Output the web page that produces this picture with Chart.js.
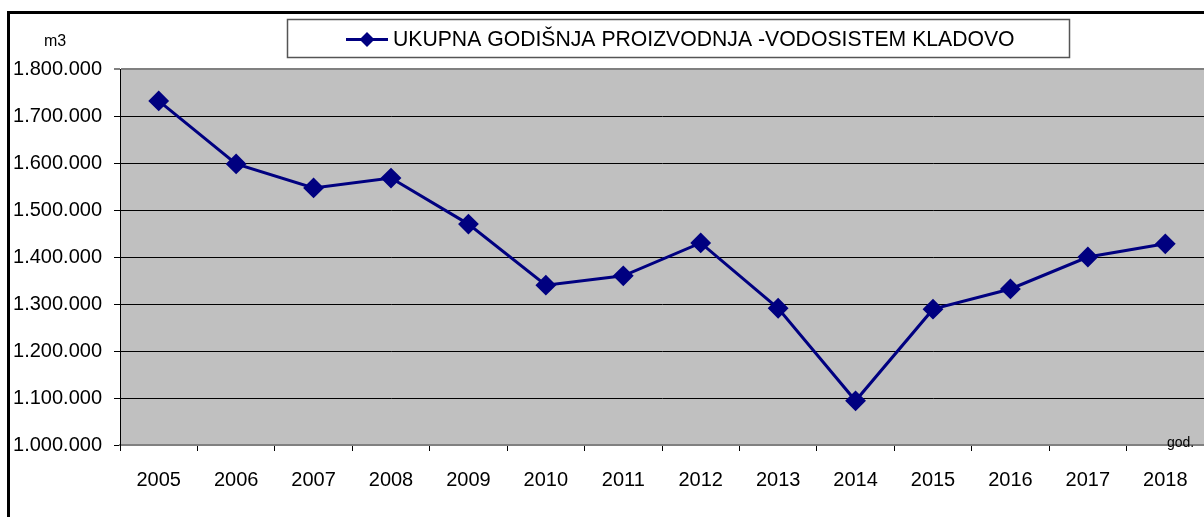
<!DOCTYPE html>
<html>
<head>
<meta charset="utf-8">
<script src="https://cdn.jsdelivr.net/npm/chart.js@4/dist/chart.umd.min.js"></script>
<style>
    html, body { margin: 0; padding: 0; background: #ffffff; overflow: hidden; }
    #wrap { width: 1204px; height: 517px; position: relative; }
    #prodChart { display: block; }
</style>
</head>
<body>
<div id="wrap"><canvas id="prodChart"></canvas></div>
<script>
// Godisnja proizvodnja vode (m3) po godinama
const years = ['2005', '2006', '2007', '2008', '2009', '2010', '2011',
               '2012', '2013', '2014', '2015', '2016', '2017', '2018'];
const production = [1732000, 1598000, 1547000, 1568000, 1470000, 1340000, 1360000,
                    1430000, 1291000, 1094000, 1289000, 1332000, 1400000, 1428000];
const seriesLabel = 'UKUPNA GODIŠNJA PROIZVODNJA -VODOSISTEM KLADOVO';
const yMin = 1000000;
const yMax = 1800000;
const yStep = 100000;

const FONT = '"Liberation Sans", Arial, sans-serif';
const NAVY = '#000080';

// thousands separator with dots (1.800.000)
function formatDots(v) {
    return String(v).replace(/\B(?=(\d{3})+(?!\d))/g, '.');
}

// grey plot background, outer frame, legend box and axis captions
const decorPlugin = {
    id: 'decor',
    beforeDraw(chart) {
        const { ctx, chartArea } = chart;
        ctx.save();
        ctx.fillStyle = '#c0c0c0';
        ctx.fillRect(chartArea.left, chartArea.top,
                     chartArea.right - chartArea.left, chartArea.bottom - chartArea.top);
        ctx.restore();
    },
    afterDraw(chart) {
        const { ctx } = chart;
        ctx.save();

        // outer frame (continues past the picture edge)
        ctx.strokeStyle = '#000000';
        ctx.lineWidth = 3;
        ctx.strokeRect(8.5, 12.5, 1300, 600);

        // legend box
        ctx.strokeStyle = '#555555';
        ctx.lineWidth = 1.5;
        ctx.strokeRect(287.5, 19.5, 782, 38);

        ctx.strokeStyle = NAVY;
        ctx.lineWidth = 3;
        ctx.beginPath();
        ctx.moveTo(346, 39.5);
        ctx.lineTo(388, 39.5);
        ctx.stroke();
        ctx.fillStyle = NAVY;
        ctx.beginPath();
        ctx.moveTo(367, 32);
        ctx.lineTo(374.5, 39.5);
        ctx.lineTo(367, 47);
        ctx.lineTo(359.5, 39.5);
        ctx.closePath();
        ctx.fill();

        ctx.fillStyle = '#000000';
        ctx.font = '21.2px ' + FONT;
        ctx.textAlign = 'left';
        ctx.textBaseline = 'middle';
        ctx.fillText(seriesLabel, 393, 40);

        // axis captions
        ctx.font = '16px ' + FONT;
        ctx.textAlign = 'center';
        ctx.fillText('m3', 55, 42);

        ctx.font = '14px ' + FONT;
        ctx.textAlign = 'left';
        ctx.fillText('god.', 1167, 443);

        ctx.restore();
    }
};

const ctx = document.getElementById('prodChart');

new Chart(ctx, {
    type: 'line',
    data: {
        labels: years,
        datasets: [{
            label: seriesLabel,
            data: production,
            borderColor: NAVY,
            backgroundColor: NAVY,
            borderWidth: 3,
            tension: 0,
            pointStyle: 'rectRot',
            pointRadius: 9,
            pointBorderWidth: 2,
            pointBackgroundColor: NAVY,
            pointBorderColor: NAVY,
            pointHoverRadius: 9
        }]
    },
    options: {
        responsive: true,
        maintainAspectRatio: false,
        animation: false,
        layout: {
            autoPadding: false,
            padding: { top: 69, right: 0, bottom: 0, left: 0 }
        },
        plugins: {
            legend: { display: false },
            tooltip: { enabled: false }
        },
        scales: {
            x: {
                offset: true,
                afterFit: (scale) => {
                    scale.height = 72;
                    scale.paddingRight = 0;
                },
                grid: {
                    offset: true,
                    drawOnChartArea: false,
                    drawTicks: true,
                    tickLength: 6,
                    color: '#000000'
                },
                border: { color: '#808080', width: 2 },
                ticks: {
                    color: '#000000',
                    padding: 17,
                    maxRotation: 0,
                    autoSkip: false,
                    font: { family: FONT, size: 20 }
                }
            },
            y: {
                min: yMin,
                max: yMax,
                afterFit: (scale) => { scale.width = 120; },
                grid: {
                    color: (c) => (c.tick && c.tick.value === yMax ? '#808080' : '#000000'),
                    lineWidth: (c) => (c.tick && c.tick.value === yMax ? 2 : 1),
                    tickLength: 6
                },
                border: { color: '#000000', width: 1 },
                ticks: {
                    stepSize: yStep,
                    color: '#000000',
                    padding: 12,
                    font: { family: FONT, size: 20 },
                    callback: (value) => formatDots(value)
                }
            }
        }
    },
    plugins: [decorPlugin]
});
</script>
</body>
</html>
